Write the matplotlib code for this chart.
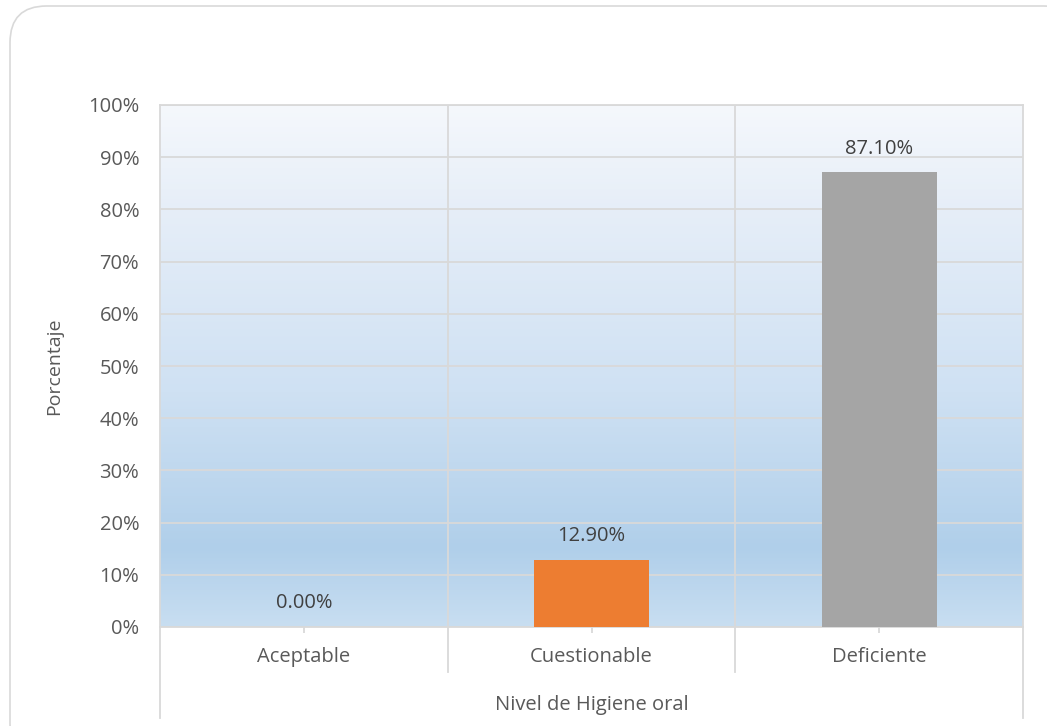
import matplotlib
matplotlib.use("Agg")
import matplotlib.pyplot as plt
import numpy as np
from matplotlib.colors import LinearSegmentedColormap
from matplotlib.patches import FancyBboxPatch
from matplotlib.lines import Line2D
from matplotlib.ticker import MultipleLocator, FuncFormatter

categories = ["Aceptable", "Cuestionable", "Deficiente"]
values = [0.0, 12.90, 87.10]
bar_colors = ["#4472c4", "#ed7d31", "#a5a5a5"]
x_title = "Nivel de Higiene oral"
y_title = "Porcentaje"

plt.rcParams['font.family'] = ['Open Sans', 'DejaVu Sans']
txt = "#595959"
grid_c = "#d9d9d9"
fs = 14.5

W, H = 1047, 726
fig = plt.figure(figsize=(W / 100, H / 100), dpi=100)

# rounded chart border (extends past right/bottom edges, as in the reference)
border = FancyBboxPatch((10 / W, 1 - 760 / H), (1080 - 10) / W, (760 - 6) / H,
                        boxstyle="round,pad=0,rounding_size=0.035",
                        transform=fig.transFigure, fc="white", ec="#d9d9d9",
                        lw=1.2, zorder=-10, mutation_aspect=W / H)
fig.patches.append(border)

L, R, T, B = 160, 1023, 105, 627
ax = fig.add_axes([L / W, 1 - B / H, (R - L) / W, (B - T) / H])
ax.set_facecolor("none")
ax.set_zorder(1)

# gradient background
cmap = LinearSegmentedColormap.from_list(
    "bg", [(0.0, "#c8def1"), (0.15, "#b0cfea"), (0.45, "#cfe1f3"),
           (0.8, "#e6eef8"), (1.0, "#f5f8fc")])
grad = np.linspace(0, 1, 256).reshape(-1, 1)
ax.imshow(grad, cmap=cmap, aspect="auto", extent=[-0.5, 2.5, 0, 100],
          origin="lower", zorder=0)

x = np.arange(len(categories))
ax.bar(x, values, width=0.4, color=bar_colors, zorder=3)
for xi, v in zip(x, values):
    ax.annotate(f"{v:.2f}%", (xi, v), xytext=(0, 13.5), textcoords="offset points",
                ha="center", va="baseline", fontsize=fs, color="#404040", zorder=4)

ax.set_xlim(-0.5, 2.5)
ax.set_ylim(0, 100)
ax.yaxis.set_major_locator(MultipleLocator(10))
ax.yaxis.set_major_formatter(FuncFormatter(lambda v, p: f"{v:.0f}%"))
ax.grid(axis="y", color=grid_c, lw=1.3, zorder=1)
for xb in [0.5, 1.5]:
    ax.axvline(xb, color=grid_c, lw=1.3, zorder=1)
for s in ["top", "right", "left", "bottom"]:
    ax.spines[s].set_color(grid_c)
    ax.spines[s].set_linewidth(1.3)
ax.tick_params(axis="y", length=0, pad=15, labelsize=fs, labelcolor=txt)
ax.set_xticks(x)
ax.set_xticklabels([])
ax.tick_params(axis="x", length=4, color=grid_c, width=1.3)

# multi-level category axis
pxh = 1.0 / (B - T)
for xb, yb in [(-0.5, 718), (0.5, 672), (1.5, 672), (2.5, 718)]:
    ax.add_line(Line2D([xb, xb], [0, -(yb - B) * pxh], transform=ax.get_xaxis_transform(),
                       color=grid_c, lw=1.3, clip_on=False))
for xi, c in zip(x, categories):
    ax.text(xi, -(657 - B) * pxh, c, transform=ax.get_xaxis_transform(),
            ha="center", va="center", fontsize=fs, color=txt)
ax.text(1.0, -(705 - B) * pxh, x_title, transform=ax.get_xaxis_transform(),
        ha="center", va="center", fontsize=fs, color=txt)

ax.set_ylabel(y_title, fontsize=14, color=txt)
ax.yaxis.set_label_coords((63 - L) / (R - L), 0.5)

fig.savefig("out.png", dpi=100)
